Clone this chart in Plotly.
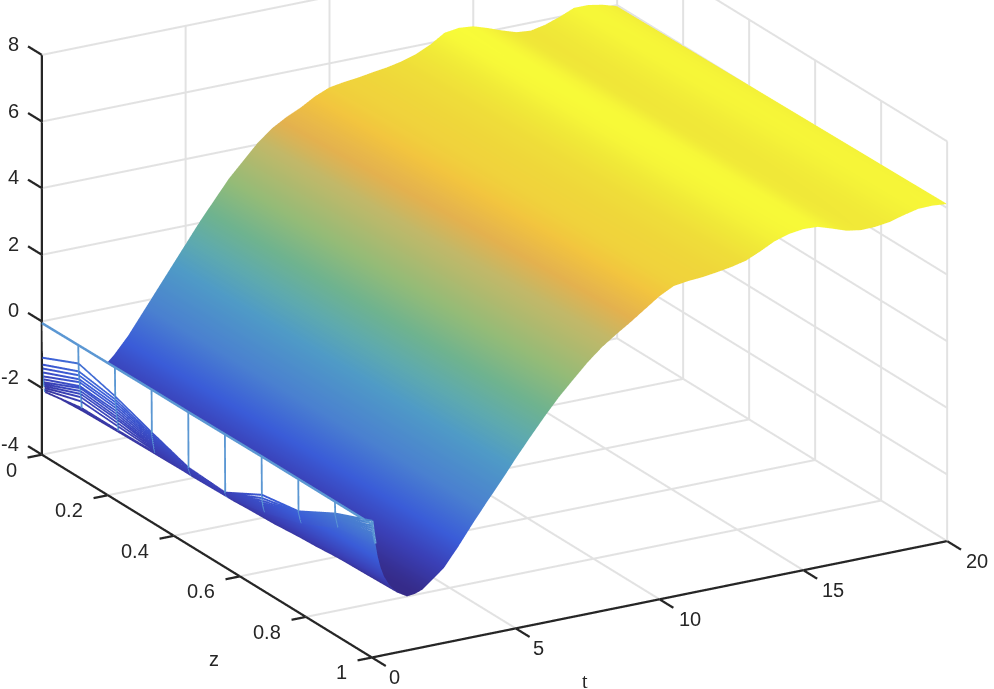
import plotly.graph_objects as go

z_wire = [0, 1/9, 2/9, 3/9, 4/9, 5/9, 6/9, 7/9, 8/9, 1]
t_wire = [0, .01, .02, .03, .04, .05, .06, .07, .08, .09, .10, .11, .12]
u_wire = [
    [-0.05, -0.04, -0.03, -0.02, -0.02, -0.01, 0, 0, 0, 0],
    [-1.09, -0.59, -0.90, -1.31, -1.69, -1.76, -1.15, -0.97, -0.36, 0.10],
    [-1.30, -0.83, -1.00, -1.38, -1.72, -1.78, -1.25, -1.00, -0.40, 0.02],
    [-1.42, -0.95, -1.09, -1.44, -1.75, -1.80, -1.33, -1.04, -0.44, -0.06],
    [-1.54, -1.07, -1.18, -1.50, -1.78, -1.82, -1.40, -1.08, -0.48, -0.13],
    [-1.66, -1.16, -1.27, -1.56, -1.80, -1.84, -1.46, -1.12, -0.52, -0.20],
    [-1.75, -1.28, -1.36, -1.62, -1.83, -1.86, -1.50, -1.16, -0.56, -0.27],
    [-1.84, -1.34, -1.45, -1.68, -1.85, -1.87, -1.54, -1.20, -0.60, -0.33],
    [-1.90, -1.43, -1.54, -1.73, -1.87, -1.88, -1.57, -1.23, -0.64, -0.39],
    [-1.96, -1.52, -1.62, -1.78, -1.89, -1.89, -1.60, -1.26, -0.68, -0.44],
    [-2.02, -1.62, -1.72, -1.83, -1.91, -1.90, -1.63, -1.29, -0.72, -0.49],
    [-2.08, -1.75, -1.82, -1.88, -1.93, -1.91, -1.66, -1.31, -0.76, -0.54],
    [-2.14, -1.95, -1.95, -1.93, -1.95, -1.92, -1.68, -1.33, -0.79, -0.60],
]

t_trough = [.12, .2, .3, .42, .6, .87, 1.22, 1.5, 1.75, 2]
u_trough = [
    [-2.14, -1.95, -1.95, -1.93, -1.95, -1.92, -1.68, -1.33, -0.79, -0.60],
    [-2.18, -2.10, -2.05, -2.03, -2.02, -2.00, -1.86, -1.60, -1.25, -1.00],
    [-2.20, -2.17, -2.14, -2.12, -2.10, -2.08, -2.00, -1.85, -1.62, -1.35],
    [-2.18, -2.21, -2.21, -2.19, -2.17, -2.15, -2.10, -2.00, -1.85, -1.64],
    [-2.14, -2.18, -2.22, -2.24, -2.23, -2.22, -2.19, -2.13, -2.03, -1.92],
    [-2.08, -2.12, -2.16, -2.21, -2.26, -2.29, -2.30, -2.27, -2.24, -2.20],
    [-2.02, -2.05, -2.09, -2.13, -2.18, -2.23, -2.29, -2.33, -2.36, -2.38],
    [-1.96, -2.00, -2.04, -2.08, -2.12, -2.17, -2.22, -2.27, -2.32, -2.35],
    [-1.92, -1.95, -1.99, -2.02, -2.06, -2.10, -2.15, -2.20, -2.24, -2.27],
    [-1.85, -1.88, -1.90, -1.93, -1.96, -1.98, -2.01, -2.04, -2.07, -2.10],
]

z_body = [0, 1/3, 2/3, 1]
t_body = [2, 2.5, 3, 3.5, 4, 4.5, 5, 5.5, 6, 6.5, 7, 7.5, 8, 8.5, 9, 9.5, 10, 10.5,
          11, 11.5, 12, 12.5, 13, 13.5, 14, 14.5, 15, 15.5, 16, 16.5, 17, 17.5, 18, 18.5, 19, 19.5, 20]
u_body = [
    [-1.85, -1.93, -2.02, -2.10],
    [-1.45, -1.55, -1.65, -1.75],
    [-0.95, -1.03, -1.12, -1.20],
    [-0.35, -0.43, -0.52, -0.60],
    [0.25, 0.16, 0.06, -0.03],
    [0.85, 0.74, 0.63, 0.52],
    [1.45, 1.33, 1.22, 1.10],
    [2.05, 1.92, 1.78, 1.65],
    [2.60, 2.46, 2.32, 2.18],
    [3.15, 2.99, 2.84, 2.68],
    [3.60, 3.44, 3.28, 3.12],
    [4.05, 3.88, 3.72, 3.55],
    [4.40, 4.24, 4.08, 3.92],
    [4.65, 4.51, 4.36, 4.22],
    [4.85, 4.73, 4.62, 4.50],
    [5.10, 5.00, 4.90, 4.80],
    [5.28, 5.22, 5.16, 5.10],
    [5.35, 5.34, 5.33, 5.32],
    [5.40, 5.39, 5.39, 5.38],
    [5.47, 5.45, 5.43, 5.41],
    [5.53, 5.51, 5.49, 5.47],
    [5.62, 5.59, 5.57, 5.54],
    [5.75, 5.71, 5.68, 5.64],
    [5.95, 5.91, 5.87, 5.83],
    [6.22, 6.16, 6.11, 6.05],
    [6.28, 6.25, 6.21, 6.18],
    [6.24, 6.24, 6.24, 6.24],
    [6.10, 6.14, 6.18, 6.22],
    [5.94, 5.99, 6.03, 6.08],
    [5.80, 5.84, 5.89, 5.93],
    [5.76, 5.79, 5.83, 5.86],
    [5.85, 5.86, 5.86, 5.87],
    [6.00, 5.98, 5.95, 5.93],
    [6.18, 6.14, 6.09, 6.05],
    [6.18, 6.17, 6.16, 6.15],
    [6.10, 6.12, 6.14, 6.16],
    [5.97, 6.02, 6.07, 6.12],
]

z_ticks = [0, .2, .4, .6, .8, 1]
z_labels = ["0", "0.2", "0.4", "0.6", "0.8", "1"]
t_ticks = [0, 5, 10, 15, 20]
t_labels = ["0", "5", "10", "15", "20"]
u_ticks = [-4, -2, 0, 2, 4, 6, 8]
u_labels = ["-4", "-2", "0", "2", "4", "6", "8"]

color_stops = [
    (0.00, "#352a87"), (0.07, "#3a3fb5"), (0.15, "#3a5cd8"), (0.25, "#4a80d0"),
    (0.38, "#4f9bc6"), (0.46, "#5eaaae"), (0.54, "#6fb38f"), (0.63, "#93bb78"),
    (0.75, "#c3b868"), (0.80, "#e3b14f"), (0.86, "#f2c43f"), (0.91, "#efd93a"),
    (0.95, "#f0e838"), (1.00, "#f8fb38"),
]
cmin, cmax = -2.4, 6.3
flat = dict(ambient=1, diffuse=0, specular=0, roughness=1, fresnel=0)
INK = "#262626"


def segments(items):
    xs, ys, zs = [], [], []
    for a, b, c in items:
        xs += list(a) + [None]
        ys += list(b) + [None]
        zs += list(c) + [None]
    return xs, ys, zs


def lines(items, **line):
    xs, ys, zs = segments(items)
    return go.Scatter3d(x=xs, y=ys, z=zs, mode="lines", hoverinfo="skip",
                        showlegend=False, line=line)


z0, z1 = z_ticks[0], z_ticks[-1]
t0, t1 = t_ticks[0], t_ticks[-1]
u0, u1 = u_ticks[0], u_ticks[-1]
z_pad, t_pad, u_pad = (z1 - z0) * 0.05, (t1 - t0) * 0.05, (u1 - u0) * 0.05
z_tick_len, t_tick_len = 0.042, 0.5

fig = go.Figure()

# back walls and floor (the edges that carry an axis line are left to that line)
grid = []
for t in t_ticks:
    if t != t0:
        grid.append(([z0, z1], [t, t], [u0, u0]))
        grid.append(([z0, z0], [t, t], [u0, u1]))
for z in z_ticks:
    if z != z1:
        grid.append(([z, z], [t0, t1], [u0, u0]))
    grid.append(([z, z], [t1, t1], [u0, u1]))
for u in u_ticks:
    grid.append(([z0, z0], [t0, t1], [u, u]))
    grid.append(([z0, z1], [t1, t1], [u, u]))
fig.add_trace(lines(grid, width=4, color="#e2e2e2"))

common = dict(colorscale=color_stops, cmin=cmin, cmax=cmax, showscale=False,
              lighting=flat, hoverinfo="skip")
fig.add_trace(go.Surface(x=z_body, y=t_body, z=u_body, **common))
fig.add_trace(go.Surface(x=z_wire, y=t_trough, z=u_trough, **common))

# white faces of the mesh behind its coloured edges
fig.add_trace(go.Surface(x=z_wire, y=[t + 0.015 for t in t_wire], z=u_wire,
                         colorscale=[[0, "white"], [1, "white"]], showscale=False,
                         lighting=flat, hoverinfo="skip"))

# coloured mesh edges
row_items = [(z_wire, [t] * len(z_wire), row) for t, row in zip(t_wire[1:], u_wire[1:])]
xs, ys, zs = segments(row_items)
fig.add_trace(go.Scatter3d(x=xs, y=ys, z=zs, mode="lines", hoverinfo="skip", showlegend=False,
                           line=dict(width=4, color=[v if v is not None else 0 for v in zs],
                                     colorscale=color_stops, cmin=cmin, cmax=cmax)))
edge_items = [(z_wire, [t_wire[0]] * len(z_wire), u_wire[0])]
for j, zv in enumerate(z_wire):
    edge_items.append(([zv] * len(t_wire), t_wire, [r[j] for r in u_wire]))
fig.add_trace(lines(edge_items, width=5, color="#5b97d3"))

# axis lines and tick marks
frame = [([z0, z0], [t0, t0], [u0, u1]),
         ([z0, z1], [t0, t0], [u0, u0]),
         ([z1, z1], [t0, t1], [u0, u0])]
frame += [([z0, z0 - z_tick_len], [t0, t0], [u, u]) for u in u_ticks]
frame += [([z, z], [t0, t0 - t_tick_len], [u0, u0]) for z in z_ticks]
frame += [([z1, z1 + z_tick_len], [t, t], [u0, u0]) for t in t_ticks]
fig.add_trace(lines(frame, width=4.5, color=INK))

tick_font = dict(family="Liberation Sans", size=20, color=INK)
labels = []
for u, s in zip(u_ticks, u_labels):
    labels.append(dict(x=z0, y=t0, z=u, text=s, showarrow=False, font=tick_font,
                       xanchor="right", yanchor="middle", xshift=-21, yshift=11))
for z, s in zip(z_ticks, z_labels):
    labels.append(dict(x=z, y=t0, z=u0, text=s, showarrow=False, font=tick_font,
                       xanchor="center", yanchor="middle",
                       xshift=-30 if s in ("0", "1") else -39, yshift=-15))
for t, s in zip(t_ticks, t_labels):
    labels.append(dict(x=z1, y=t, z=u0, text=s, showarrow=False, font=tick_font,
                       xanchor="center", yanchor="middle",
                       xshift=23 if len(s) == 1 else 30, yshift=-20))

axis = dict(visible=False, showspikes=False)

fig.update_layout(
    width=994, height=689, paper_bgcolor="white", showlegend=False,
    margin=dict(l=0, r=0, t=0, b=0),
    scene=dict(
        domain=dict(x=[0, 1], y=[0, 1]),
        xaxis=dict(axis, range=[z0 - z_pad, z1 + z_pad]),
        yaxis=dict(axis, range=[t0 - t_pad, t1 + t_pad]),
        zaxis=dict(axis, range=[u0 - u_pad, u1 + u_pad]),
        aspectmode="manual", aspectratio=dict(x=1.925 * 1.1, y=1.925 * 1.1, z=1.24 * 1.1),
        camera=dict(projection=dict(type="orthographic"),
                    center=dict(x=0.004, y=0.006, z=-0.144), up=dict(x=0, y=0, z=1),
                    eye=dict(x=1.22 + 0.004, y=-0.70 + 0.006, z=0.53 - 0.144)),
        annotations=labels,
    ),
    annotations=[
        dict(text="z", x=214/994, y=1-659/689, xref="paper", yref="paper", showarrow=False,
             xanchor="center", yanchor="middle",
             font=dict(family="Liberation Sans", size=20, color=INK)),
        dict(text="t", x=585/994, y=1-681/689, xref="paper", yref="paper", showarrow=False,
             xanchor="center", yanchor="middle",
             font=dict(family="Liberation Serif", size=20, color=INK)),
    ],
)
fig.write_html("out.html", config=dict(displayModeBar=False),
               post_script="document.body.style.margin='0';")
